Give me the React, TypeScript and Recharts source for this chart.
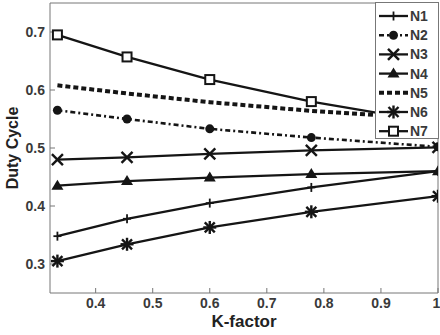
import { LineChart, Line, XAxis, YAxis, Label } from "recharts";

// K-factor sample points
const kFactor = [0.333, 0.455, 0.6, 0.778, 1.0];

// duty cycle per series
const n1 = [0.348, 0.378, 0.405, 0.432, 0.46];
const n2 = [0.565, 0.55, 0.533, 0.518, 0.502];
const n3 = [0.48, 0.484, 0.49, 0.496, 0.501];
const n4 = [0.435, 0.443, 0.449, 0.455, 0.46];
const n5 = [0.608, 0.594, 0.579, 0.564, 0.55];
const n6 = [0.305, 0.334, 0.363, 0.39, 0.417];
const n7 = [0.695, 0.657, 0.618, 0.58, 0.543];

const xTicks = [0.4, 0.5, 0.6, 0.7, 0.8, 0.9, 1];
const yTicks = [0.3, 0.4, 0.5, 0.6, 0.7];
const seriesNames = ["N1", "N2", "N3", "N4", "N5", "N6", "N7"];

const data = kFactor.map((k, i) => ({
  k,
  N1: n1[i],
  N2: n2[i],
  N3: n3[i],
  N4: n4[i],
  N5: n5[i],
  N6: n6[i],
  N7: n7[i],
}));

const INK = "#151515";
const TEXT = "#3a3a3a";
const FONT = "'Liberation Sans', Arial, sans-serif";

type Mk = (cx: number, cy: number, key?: string) => JSX.Element | null;

const markers: Record<string, Mk> = {
  N1: (cx, cy, key) => (
    <g key={key} stroke={INK} strokeWidth={1.8}>
      <line x1={cx - 4} y1={cy} x2={cx + 4} y2={cy} />
      <line x1={cx} y1={cy - 4.5} x2={cx} y2={cy + 4.5} />
    </g>
  ),
  N2: (cx, cy, key) => <circle key={key} cx={cx} cy={cy} r={4.5} fill={INK} />,
  N3: (cx, cy, key) => (
    <g key={key} stroke={INK} strokeWidth={2.4}>
      <line x1={cx - 5.5} y1={cy - 5.5} x2={cx + 5.5} y2={cy + 5.5} />
      <line x1={cx - 5.5} y1={cy + 5.5} x2={cx + 5.5} y2={cy - 5.5} />
    </g>
  ),
  N4: (cx, cy, key) => (
    <path key={key} d={`M${cx},${cy - 6} L${cx + 6},${cy + 4} L${cx - 6},${cy + 4} Z`} fill={INK} />
  ),
  N5: () => null,
  N6: (cx, cy, key) => (
    <g key={key} stroke={INK} strokeWidth={2.4}>
      <line x1={cx - 6.5} y1={cy} x2={cx + 6.5} y2={cy} />
      <line x1={cx} y1={cy - 6.5} x2={cx} y2={cy + 6.5} />
      <line x1={cx - 5} y1={cy - 5} x2={cx + 5} y2={cy + 5} />
      <line x1={cx - 5} y1={cy + 5} x2={cx + 5} y2={cy - 5} />
    </g>
  ),
  N7: (cx, cy, key) => (
    <rect key={key} x={cx - 4.5} y={cy - 4.5} width={9} height={9} fill="#fff" stroke={INK} strokeWidth={2} />
  ),
};

const dashes: Record<string, string | undefined> = {
  N2: "5 3 2 3",
  N5: "5 3",
};

const widths: Record<string, number> = { N2: 2.6, N5: 4 };

function dotFor(name: string) {
  return (p: any) => {
    const el = markers[name](p.cx, p.cy, `${name}-${p.index}`);
    return el ?? <g key={`${name}-${p.index}`} />;
  };
}

function LegendBox() {
  return (
    <div
      style={{
        position: "absolute",
        left: 375,
        top: 2,
        width: 64,
        height: 137,
        background: "#fff",
        border: "1px solid #777",
        boxSizing: "border-box",
      }}
    >
      <svg width={62} height={135}>
        {seriesNames.map((name, i) => {
          const y = 13 + i * 19.2;
          return (
            <g key={name}>
              <line
                x1={3}
                x2={32}
                y1={y}
                y2={y}
                stroke={INK}
                strokeWidth={widths[name] ?? 2.3}
                strokeDasharray={dashes[name]}
              />
              {markers[name](17.5, y)}
              <text x={34} y={y + 5} fontFamily={FONT} fontWeight="bold" fontSize={14} fill={TEXT}>
                {name}
              </text>
            </g>
          );
        })}
      </svg>
    </div>
  );
}

export default function App() {
  return (
    <div style={{ position: "absolute", left: 0, top: 0, width: 440, height: 335, background: "#fff" }}>
      <LineChart width={440} height={335} data={data} margin={{ top: 2, right: 0, bottom: 0, left: 0 }}>
        <XAxis
          dataKey="k"
          type="number"
          domain={[0.32, 1]}
          ticks={xTicks}
          tickFormatter={(v: number) => (v === 1 ? "1" : v.toFixed(1))}
          height={42}
          tickSize={-5}
          tickMargin={10}
          stroke="#777"
          tick={{ fill: TEXT, fontFamily: FONT, fontWeight: "bold", fontSize: 14 }}
          allowDataOverflow
        >
          <Label
            value="K-factor"
            position="insideBottom"
            offset={8}
            style={{ fill: "#222", fontFamily: FONT, fontWeight: "bold", fontSize: 17 }}
          />
        </XAxis>
        <XAxis
          xAxisId="top"
          orientation="top"
          type="number"
          domain={[0.32, 1]}
          ticks={xTicks}
          height={1}
          tickSize={-5}
          tick={false}
          stroke="#777"
          allowDataOverflow
        />
        <YAxis
          type="number"
          domain={[0.25, 0.75]}
          ticks={yTicks}
          tickFormatter={(v: number) => v.toFixed(1)}
          width={50}
          tickSize={-5}
          tickMargin={10}
          stroke="#777"
          tick={{ fill: TEXT, fontFamily: FONT, fontWeight: "bold", fontSize: 14 }}
          allowDataOverflow
        >
          <Label
            value="Duty Cycle"
            angle={-90}
            position="insideLeft"
            offset={12}
            style={{ textAnchor: "middle", fill: "#222", fontFamily: FONT, fontWeight: "bold", fontSize: 16 }}
          />
        </YAxis>
        <YAxis
          yAxisId="right"
          orientation="right"
          type="number"
          domain={[0.25, 0.75]}
          ticks={yTicks}
          width={2}
          tickSize={-5}
          tick={false}
          stroke="#777"
          allowDataOverflow
        />
        {seriesNames.map((name) => (
          <Line
            key={name}
            dataKey={name}
            type="linear"
            stroke={INK}
            strokeWidth={widths[name] ?? 2.3}
            strokeDasharray={dashes[name]}
            dot={dotFor(name)}
            activeDot={false}
            isAnimationActive={false}
          />
        ))}
      </LineChart>
      <LegendBox />
    </div>
  );
}
